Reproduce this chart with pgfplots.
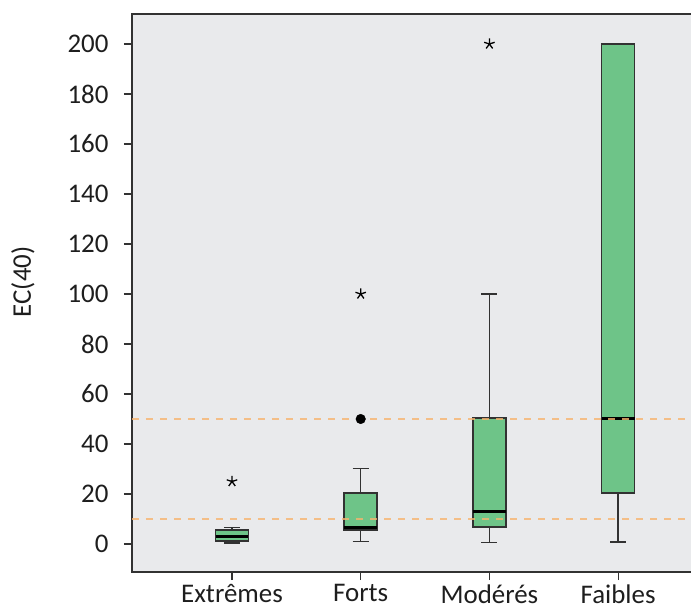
\documentclass[border=0pt]{standalone}
\usepackage{fontspec}
\setmainfont{Carlito}
\usepackage{pgfplots}
\pgfplotsset{compat=1.18}
\definecolor{bg}{RGB}{233,234,236}
\definecolor{boxgreen}{RGB}{110,196,136}
\definecolor{edge}{RGB}{50,50,50}
\definecolor{refline}{RGB}{247,180,110}
\definecolor{txt}{RGB}{30,30,30}
% position, moustache basse, Q1, mediane, Q3, moustache haute
\newcommand\drawbox[6]{%
  \pgfmathsetmacro\xl{#1-0.128}\pgfmathsetmacro\xr{#1+0.128}%
  \pgfmathsetmacro\cl{#1-0.0625}\pgfmathsetmacro\cr{#1+0.0625}%
  \addplot[edge, line width=1.4bp] coordinates {(#1,#2) (#1,#3)};
  \addplot[edge, line width=1.4bp] coordinates {(#1,#5) (#1,#6)};
  \addplot[edge, line width=1.4bp] coordinates {(\cl,#2) (\cr,#2)};
  \addplot[edge, line width=1.4bp] coordinates {(\cl,#6) (\cr,#6)};
  \addplot[fill=boxgreen, draw=edge, line width=1.6bp]
    coordinates {(\xl,#3) (\xr,#3) (\xr,#5) (\xl,#5)} -- cycle;
  \addplot[black, line width=3bp] coordinates {(\xl,#4) (\xr,#4)};
}
\begin{document}
\begin{tikzpicture}
\useasboundingbox (-132bp,-39bp) rectangle (559bp,572bp);
\begin{axis}[
    at={(0,0)}, anchor=south west,
    scale only axis,
    width=565bp, height=558bp,
    xmin=0.223, xmax=4.613,
    ymin=-11.2, ymax=212,
    axis background/.style={fill=bg},
    axis line style={edge, line width=1.6bp},
    xtick={1,2,3,4},
    xticklabels={Extrêmes,Forts,Modérés,Faibles},
    ytick={0,20,...,200},
    tick pos=left,
    tick align=outside,
    major tick length=8bp,
    tick style={edge, line width=1.2bp},
    /pgf/number format/assume math mode=true,
    ticklabel style={font=\fontsize{27}{32}\selectfont, text=txt},
    yticklabel style={xshift=-12bp},
    xticklabel style={yshift=-1bp},
    ylabel={EC(40)},
    every axis y label/.style={at={(axis description cs:0,0.52)}, xshift=-109bp,
        rotate=90, anchor=center, font=\fontsize{27}{32}\selectfont, text=txt},
]
\drawbox{1}{0.4}{1.3}{3}{5.6}{6.5}
\drawbox{2}{0.9}{5.5}{6.7}{20.3}{30.3}
\drawbox{3}{0.5}{6.8}{12.8}{50.3}{100}
\drawbox{4}{0.8}{20.3}{50}{200}{200}
% valeurs extremes
\addplot[only marks, mark=star, mark size=5.5bp, black, line width=1.3bp]
    coordinates {(1,25) (2,100) (3,200)};
\addplot[only marks, mark=*, mark size=4.8bp, black]
    coordinates {(2,50)};
% seuils
\addplot[refline, line width=1.8bp, dash pattern=on 7bp off 7bp, draw opacity=0.8]
    coordinates {(0.223,10) (4.613,10)};
\addplot[refline, line width=1.8bp, dash pattern=on 7bp off 7bp, draw opacity=0.8]
    coordinates {(0.223,50) (4.613,50)};
\end{axis}
\end{tikzpicture}
\end{document}
